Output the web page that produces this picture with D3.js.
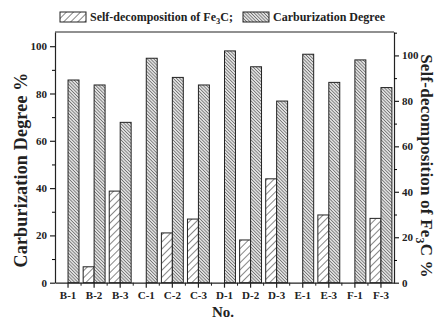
<!DOCTYPE html>
<html>
<head>
<meta charset="utf-8">
<script src="https://cdn.jsdelivr.net/npm/d3@7"></script>
<style>
  body { margin: 0; background: #fff; }
  text { font-family: "Liberation Serif", "Times New Roman", serif; font-weight: bold; }
</style>
</head>
<body>
<script>
let categories = ["B-1","B-2","B-3","C-1","C-2","C-3","D-1","D-2","D-3","E-1","E-3","F-1","F-3"];
let carburization = [85.7, 83.6, 67.8, 94.9, 86.8, 83.6, 98.0, 91.3, 76.8, 96.6, 84.7, 94.2, 82.5];
let selfDecomp = [0, 7.0, 40.3, 0, 21.9, 28.0, 0, 18.8, 45.7, 0, 29.8, 0, 28.3];
let leftTicks = [0, 20, 40, 60, 80, 100];
let rightTicks = [0, 20, 40, 60, 80, 100];

let canvasW = 438;
let canvasH = 319;
let plotL = 55, plotR = 394, plotT = 32, plotB = 282.7;

let svg = d3.select("body").append("svg")
  .attr("width", canvasW)
  .attr("height", canvasH);

// hatch patterns
let defs = svg.append("defs");
defs.append("pattern")
  .attr("id", "hatchSelf")
  .attr("patternUnits", "userSpaceOnUse")
  .attr("width", 5).attr("height", 5)
  .attr("patternTransform", "rotate(45)")
  .call(p => {
    p.append("rect").attr("width", 5).attr("height", 5).attr("fill", "#fff");
    p.append("line").attr("x1", 0).attr("y1", 0).attr("x2", 0).attr("y2", 5)
      .attr("stroke", "#222").attr("stroke-width", 1.1);
  });
defs.append("pattern")
  .attr("id", "hatchCarb")
  .attr("patternUnits", "userSpaceOnUse")
  .attr("width", 2.3).attr("height", 4)
  .attr("patternTransform", "rotate(-45)")
  .call(p => {
    p.append("rect").attr("width", 2.3).attr("height", 4).attr("fill", "#e0e0e0");
    p.append("line").attr("x1", 0).attr("y1", 0).attr("x2", 0).attr("y2", 4)
      .attr("stroke", "#333").attr("stroke-width", 1.0);
  });

let x0 = d3.scaleBand()
  .domain(categories)
  .range([plotL, plotR])
  .paddingInner(0.16)
  .paddingOuter(0.08);

let x1 = d3.scaleBand()
  .domain(["self", "carb"])
  .range([0, x0.bandwidth()]);

let yL = d3.scaleLinear().domain([0, 106]).range([plotB, plotT]);
let yR = d3.scaleLinear().domain([0, 110.3]).range([plotB, plotT]);

// bars
let g = svg.append("g");
categories.forEach((c, i) => {
  if (selfDecomp[i] > 0) {
    g.append("rect")
      .attr("x", x0(c) + x1("self"))
      .attr("y", yR(selfDecomp[i]))
      .attr("width", x1.bandwidth())
      .attr("height", plotB - yR(selfDecomp[i]))
      .attr("fill", "url(#hatchSelf)")
      .attr("stroke", "#222")
      .attr("stroke-width", 1);
  }
  g.append("rect")
    .attr("x", x0(c) + x1("carb"))
    .attr("y", yL(carburization[i]))
    .attr("width", x1.bandwidth())
    .attr("height", plotB - yL(carburization[i]))
    .attr("fill", "url(#hatchCarb)")
    .attr("stroke", "#222")
    .attr("stroke-width", 1);
});

// frame top line
svg.append("line")
  .attr("x1", plotL).attr("x2", plotR)
  .attr("y1", plotT).attr("y2", plotT)
  .attr("stroke", "#222").attr("stroke-width", 1.2);

// left axis
let axL = svg.append("g")
  .attr("transform", "translate(" + plotL + ",0)")
  .call(d3.axisLeft(yL).tickValues(leftTicks).tickSize(5).tickSizeOuter(0));
svg.append("g")
  .attr("transform", "translate(" + plotL + ",0)")
  .call(d3.axisLeft(yL).tickValues(leftTicks.slice(0, -1).map(v => v + 10)).tickSize(3).tickFormat(""))
  .call(a => a.select(".domain").remove());

// right axis
let axR = svg.append("g")
  .attr("transform", "translate(" + plotR + ",0)")
  .call(d3.axisRight(yR).tickValues(rightTicks).tickSize(5).tickSizeOuter(0));
svg.append("g")
  .attr("transform", "translate(" + plotR + ",0)")
  .call(d3.axisRight(yR).tickValues(rightTicks.map(v => v + 10)).tickSize(3).tickFormat(""))
  .call(a => a.select(".domain").remove());

// bottom axis
let axB = svg.append("g")
  .attr("transform", "translate(0," + plotB + ")")
  .call(d3.axisBottom(x0).tickSize(5).tickSizeOuter(0));
svg.append("g")
  .attr("transform", "translate(0," + plotB + ")")
  .selectAll("line")
  .data(categories.slice(1))
  .enter()
  .append("line")
  .attr("x1", d => x0(d) - x0.step() * x0.paddingInner() / 2)
  .attr("x2", d => x0(d) - x0.step() * x0.paddingInner() / 2)
  .attr("y1", 0).attr("y2", 3)
  .attr("stroke", "#222");

[axL, axR, axB].forEach(a => {
  a.selectAll("path, line").attr("stroke", "#222").attr("stroke-width", 1.2);
  a.selectAll("text")
    .attr("font-family", "'Liberation Serif', serif")
    .attr("font-weight", "bold")
    .attr("font-size", "11px")
    .attr("fill", "#222");
});
axB.selectAll("text").attr("dy", "0.8em");
axL.selectAll("text").attr("x", -8);
axR.selectAll("text").attr("x", 8);

// axis titles
svg.append("text")
  .attr("text-anchor", "middle")
  .attr("font-size", "18px")
  .attr("letter-spacing", "0.2px")
  .attr("fill", "#222")
  .attr("transform", "translate(27,170) rotate(-90)")
  .text("Carburization Degree %");

let rt = svg.append("text")
  .attr("text-anchor", "middle")
  .attr("font-size", "17px")
  .attr("letter-spacing", "0.2px")
  .attr("fill", "#222")
  .attr("transform", "translate(421,166) rotate(90)");
rt.append("tspan").text("Self-decomposition of Fe");
rt.append("tspan").attr("font-size", "12px").attr("dy", 5).text("3");
rt.append("tspan").attr("dy", -5).text("C %");

svg.append("text")
  .attr("x", 223)
  .attr("y", 317)
  .attr("text-anchor", "middle")
  .attr("font-size", "15px")
  .attr("fill", "#222")
  .text("No.");

// legend
let legend = svg.append("g");
let lt = legend.append("text")
  .attr("x", 90).attr("y", 21)
  .attr("font-size", "12px")
  .attr("fill", "#222");
lt.append("tspan").text("Self-decomposition of Fe");
lt.append("tspan").attr("font-size", "8.5px").attr("dy", 3).text("3");
lt.append("tspan").attr("dy", -3).text("C;");
legend.append("text")
  .attr("x", 273).attr("y", 21)
  .attr("font-size", "12px")
  .attr("fill", "#222")
  .text("Carburization Degree");
legend.append("rect")
  .attr("x", 60).attr("y", 12).attr("width", 26).attr("height", 10)
  .attr("fill", "url(#hatchSelf)").attr("stroke", "#222");
legend.append("rect")
  .attr("x", 243).attr("y", 12).attr("width", 26).attr("height", 10)
  .attr("fill", "url(#hatchCarb)").attr("stroke", "#222");
</script>
</body>
</html>
